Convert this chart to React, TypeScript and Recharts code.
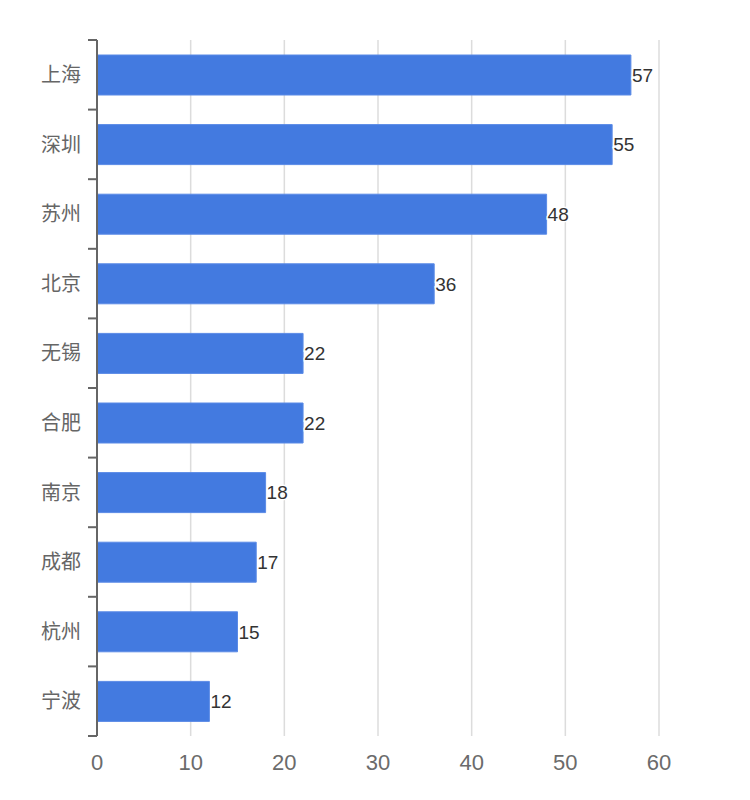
import { BarChart, Bar, XAxis, YAxis, CartesianGrid, LabelList } from "recharts";

const cities = ["上海", "深圳", "苏州", "北京", "无锡", "合肥", "南京", "成都", "杭州", "宁波"];
const counts = [57, 55, 48, 36, 22, 22, 18, 17, 15, 12];
const xTicks = [0, 10, 20, 30, 40, 50, 60];

const data = cities.map((city, i) => ({ city, count: counts[i] }));

const CHART_W = 750;
const CHART_H = 800;
const MARGIN = { top: 40, right: 91, bottom: 34, left: 0 };
const X_AXIS_H = 30;
const TICK_SIZE = 8;
const TICK_MARGIN = 8;
const MARK_LEN = 9;
// height of one category band, so the tick marks sit on the band edges
const band = (CHART_H - MARGIN.top - MARGIN.bottom - X_AXIS_H) / cities.length;

function CityTick(props: any) {
    const { x, y, payload, index } = props;
    const axisX = x + TICK_SIZE + TICK_MARGIN;
    const last = index === cities.length - 1;
    return (
        <g>
            <text
                x={x}
                y={y}
                dy="0.355em"
                textAnchor="end"
                fill="#666"
                fontSize={20}
                fontFamily="Noto Sans CJK SC, sans-serif"
            >
                {payload.value}
            </text>
            <line x1={axisX - MARK_LEN} x2={axisX} y1={y - band / 2} y2={y - band / 2} stroke="#666" strokeWidth={2} />
            {last && (
                <line x1={axisX - MARK_LEN} x2={axisX} y1={y + band / 2} y2={y + band / 2} stroke="#666" strokeWidth={2} />
            )}
        </g>
    );
}

export default function App() {
    return (
        <div style={{ position: "absolute", left: 0, top: 0, background: "#fff" }}>
            <BarChart width={CHART_W} height={CHART_H} data={data} layout="vertical" margin={MARGIN}>
                <CartesianGrid horizontal={false} stroke="#dcdcdc" strokeWidth={1.5} />
                <XAxis
                    type="number"
                    domain={[0, 60]}
                    ticks={xTicks}
                    axisLine={false}
                    tickLine={false}
                    height={X_AXIS_H}
                    tickMargin={12}
                    tick={{ fill: "#6b6b6b", fontSize: 22, fontFamily: "Liberation Sans, Arial, sans-serif" }}
                />
                <YAxis
                    type="category"
                    dataKey="city"
                    width={97}
                    axisLine={{ stroke: "#666", strokeWidth: 2 }}
                    tickLine={false}
                    tickSize={TICK_SIZE}
                    tickMargin={TICK_MARGIN}
                    interval={0}
                    tick={<CityTick />}
                />
                <Bar
                    dataKey="count"
                    fill="#437ae0"
                    stroke="#5b8ae6"
                    strokeWidth={1}
                    barSize={40}
                    isAnimationActive={false}
                >
                    <LabelList
                        dataKey="count"
                        position="right"
                        offset={1}
                        fill="#333"
                        stroke="#fff"
                        strokeWidth={3}
                        paintOrder="stroke"
                        style={{ fontSize: 19, fontFamily: "Liberation Sans, Arial, sans-serif" }}
                    />
                </Bar>
            </BarChart>
        </div>
    );
}
